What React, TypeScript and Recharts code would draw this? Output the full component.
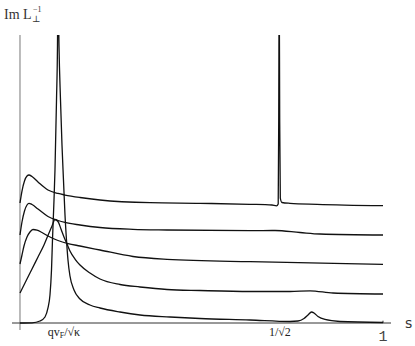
import { LineChart, Line, XAxis, YAxis, ReferenceLine } from 'recharts';

// s positions of the tick labels and their text
const tickValues = [0.121, 0.716, 1];
const tickLabels = ['qvF/√κ', '1/√2', '1'];

// curve 1 (bottom): sharp resonance near s≈0.1, small bump near s≈0.8
const c1S = [0, 0.0331, 0.0551, 0.0689, 0.0771, 0.0826, 0.0868, 0.0895, 0.0937, 0.0964, 0.1006, 0.1033, 0.1047, 0.1074, 0.1116, 0.1157, 0.1198, 0.124, 0.1281, 0.1322, 0.1377, 0.1488, 0.1653, 0.1928, 0.2204, 0.2755, 0.3306, 0.4132, 0.4959, 0.6336, 0.7438, 0.7658, 0.7824, 0.7934, 0.803, 0.8099, 0.8209, 0.8402, 0.8815, 1];
const c1Y = [0, 0.007, 0.069, 0.208, 0.521, 0.972, 1.84, 2.882, 4.271, 5.313, 7.743, 9.653, 12, 9.653, 7.743, 6.181, 4.965, 3.75, 2.882, 2.188, 1.632, 1.146, 0.833, 0.625, 0.521, 0.382, 0.278, 0.208, 0.156, 0.104, 0.052, 0.069, 0.156, 0.278, 0.382, 0.347, 0.226, 0.122, 0.052, 0.017];

// curve 2
const c2S = [0, 0.0165, 0.0331, 0.0496, 0.0661, 0.0799, 0.0882, 0.0964, 0.1047, 0.1129, 0.1212, 0.1295, 0.1377, 0.1515, 0.1653, 0.1928, 0.2204, 0.2755, 0.3306, 0.405, 0.4959, 0.6336, 0.7438, 0.7989, 0.8623, 1];
const c2Y = [1.042, 1.458, 1.875, 2.292, 2.708, 3.125, 3.368, 3.594, 3.524, 3.264, 2.986, 2.743, 2.5, 2.222, 2.014, 1.736, 1.528, 1.337, 1.25, 1.163, 1.128, 1.094, 1.094, 1.118, 1.042, 1.007];

// curve 3
const c3S = [0, 0.0055, 0.011, 0.0193, 0.0275, 0.0358, 0.0468, 0.0606, 0.0771, 0.1047, 0.1322, 0.1653, 0.2204, 0.3113, 0.405, 0.6336, 0.7989, 1];
const c3Y = [2.049, 2.361, 2.674, 2.986, 3.16, 3.247, 3.229, 3.142, 3.021, 2.865, 2.76, 2.674, 2.535, 2.309, 2.212, 2.128, 2.09, 2.038];

// curve 4
const c4S = [0, 0.0055, 0.0124, 0.0193, 0.0248, 0.0331, 0.0496, 0.0771, 0.1047, 0.124, 0.1653, 0.2204, 0.3113, 0.405, 0.6336, 0.7025, 0.7713, 0.8264, 1];
const c4Y = [3.056, 3.507, 3.889, 4.097, 4.156, 4.115, 3.958, 3.698, 3.559, 3.49, 3.403, 3.316, 3.253, 3.229, 3.205, 3.212, 3.142, 3.09, 3.056];

// curve 5 (top): sharp spike at 1/√2
const c5S = [0, 0.0055, 0.0124, 0.0193, 0.0248, 0.0331, 0.0496, 0.0771, 0.1047, 0.124, 0.1653, 0.2204, 0.3581, 0.4959, 0.6336, 0.6942, 0.7066, 0.7113, 0.7127, 0.714, 0.7154, 0.7171, 0.7218, 0.7438, 0.8182, 1];
const c5Y = [4.167, 4.583, 4.931, 5.104, 5.139, 5.087, 4.896, 4.618, 4.497, 4.444, 4.358, 4.271, 4.177, 4.156, 4.122, 4.097, 4.069, 4.132, 7.049, 12, 7.049, 4.34, 4.184, 4.156, 4.122, 4.073];

const curves = [
  { s: c1S, y: c1Y },
  { s: c2S, y: c2Y },
  { s: c3S, y: c3Y },
  { s: c4S, y: c4Y },
  { s: c5S, y: c5Y },
];

function pts(s: number[], y: number[]) {
  return s.map((v, i) => ({ s: v, y: y[i] }));
}

const serif = '"Liberation Serif", "DejaVu Serif", serif';

function Tick(props: any) {
  const { x, y, payload } = props;
  const i = tickValues.indexOf(payload.value);
  if (i === 0) {
    return (
      <text x={x} y={y + 6} textAnchor="middle" fontFamily={serif} fontSize={12} fill="#222">
        <tspan>qv</tspan>
        <tspan fontSize={8} dy={2}>F</tspan>
        <tspan dy={-2}>/√κ</tspan>
      </text>
    );
  }
  if (i === 2) {
    return (
      <text x={x} y={y + 11} textAnchor="middle" fontFamily='"Liberation Mono", monospace' fontSize={15} fill="#444">
        {tickLabels[i]}
      </text>
    );
  }
  return (
    <text x={x} y={y + 6} textAnchor="middle" fontFamily={serif} fontSize={12} fill="#222">
      {tickLabels[i]}
    </text>
  );
}

export default function App() {
  return (
    <div style={{ position: 'absolute', left: 0, top: 0, width: 415, height: 346, background: '#fff' }}>
      <LineChart width={415} height={346} margin={{ top: 35, right: 24, bottom: 0, left: 12 }}>
        <XAxis
          type="number"
          dataKey="s"
          domain={[-0.022, 1.022]}
          ticks={tickValues}
          interval={0}
          axisLine={false}
          tickLine={false}
          tickSize={0}
          tickMargin={0}
          height={16}
          tick={<Tick />}
          allowDataOverflow
        />
        <YAxis type="number" dataKey="y" domain={[-0.243, 10]} hide allowDataOverflow />
        <ReferenceLine segment={[{ x: 0, y: -0.243 }, { x: 0, y: 10 }]} stroke="#777" strokeWidth={1} />
        <ReferenceLine segment={[{ x: -0.022, y: 0 }, { x: 1.022, y: 0 }]} stroke="#333" strokeWidth={1} />
        <ReferenceLine segment={[{ x: 1, y: 0 }, { x: 1, y: 0.08 }]} stroke="#333" strokeWidth={1} />
        {curves.map((c, i) => (
          <Line
            key={i}
            data={pts(c.s, c.y)}
            dataKey="y"
            type="monotone"
            stroke="#111"
            strokeWidth={1.3}
            dot={false}
            activeDot={false}
            isAnimationActive={false}
          />
        ))}
      </LineChart>
      <svg width={415} height={346} style={{ position: 'absolute', left: 0, top: 0, pointerEvents: 'none' }}>
        <text x={4} y={19} fontFamily={serif} fontSize={14} fill="#333">Im L</text>
        <text x={32} y={22} fontFamily={serif} fontSize={9} fill="#333">⊥</text>
        <text x={33} y={12} fontFamily={serif} fontSize={8} fill="#333">−1</text>
        <text x={405} y={328} fontFamily='"DejaVu Sans", sans-serif' fontSize={14} fill="#333">s</text>
      </svg>
    </div>
  );
}
